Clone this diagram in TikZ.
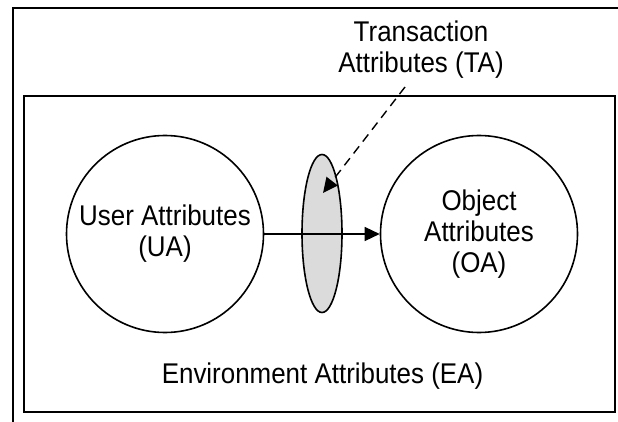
\documentclass[tikz,border=0pt]{standalone}
\usepackage{fontspec}
\setmainfont{Liberation Sans}[FakeStretch=0.91]
\usetikzlibrary{shapes.geometric,arrows.meta}
\begin{document}
\begin{tikzpicture}[x=1pt,y=-1pt,
  lbl/.style={font=\fontsize{28.5}{31}\selectfont, align=center, inner sep=0pt},
  attrcircle/.style={circle, draw, line width=1.6pt, minimum size=197pt, inner sep=0pt, font=\fontsize{28.5}{31}\selectfont, align=center},
  taellipse/.style={ellipse, draw, line width=1.6pt, fill=gray!28, minimum width=40pt, minimum height=158pt, inner sep=0pt},
  flow/.style={line width=1.4pt, -{Triangle[length=15pt,width=14pt]}},
  dflow/.style={line width=1.4pt, dash pattern=on 9pt off 6pt, -{Triangle[length=15pt,width=14pt]}}
]
\useasboundingbox (0,0) rectangle (618,422);
% outer frame (partly visible)
\coordinate (o1) at (13,422);
\coordinate (o2) at (13,8);
\coordinate (o3) at (618,8);
\draw[line width=2.8pt] (o1) -- (o2) -- (o3);
% environment box
\node[draw, line width=1.7pt, minimum width=591pt, minimum height=316pt, inner sep=0pt] (env) at (319.5,254) {};
% nodes
\node[attrcircle] (ua) at (165,234) {User Attributes\\(UA)};
\node[attrcircle] (oa) at (479,234) {Object\\Attributes\\(OA)};
\node[taellipse] (ta) at (322,233.5) {};
\node[lbl, anchor=north] (talbl) at (421,21) {Transaction\\Attributes (TA)};
\node[lbl, anchor=base] (ealbl) at (322.5,383) {Environment Attributes (EA)};
% connectors
\draw[flow] (ua) -- (oa);
\coordinate (dstart) at (405,87);
\coordinate (dend) at (323,193);
\draw[dflow] (dstart) -- (dend);
\end{tikzpicture}
\end{document}
